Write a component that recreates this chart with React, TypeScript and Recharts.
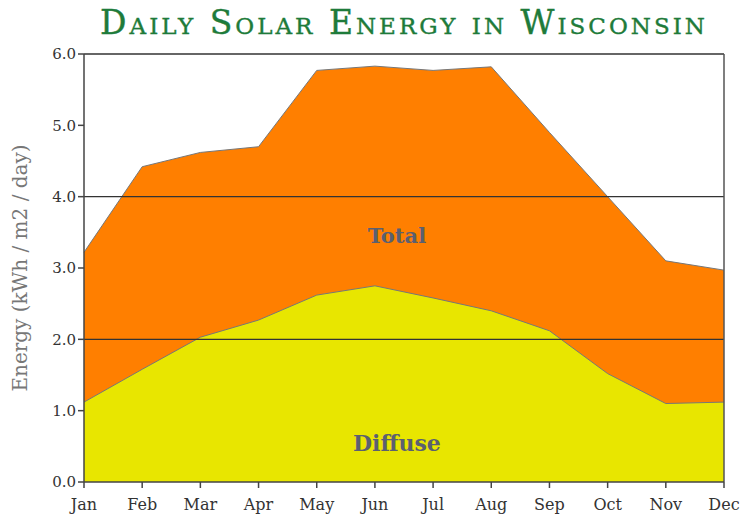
import { AreaChart, Area, XAxis, YAxis, ReferenceLine, ReferenceDot } from "recharts";

// Monthly values (kWh/m2/day)
const months = ["Jan", "Feb", "Mar", "Apr", "May", "Jun", "Jul", "Aug", "Sep", "Oct", "Nov", "Dec"];
const total = [3.22, 4.42, 4.62, 4.7, 5.77, 5.83, 5.77, 5.82, 4.9, 4.0, 3.1, 2.97];
const diffuse = [1.12, 1.58, 2.03, 2.27, 2.62, 2.75, 2.58, 2.4, 2.12, 1.52, 1.1, 1.12];
const yTicks = [0, 1, 2, 3, 4, 5, 6];
const gridValues = [2, 4];

const data = months.map((m, i) => ({ month: m, total: total[i], diffuse: diffuse[i] }));

const serif = "'DejaVu Serif', serif";
const tickStyle = { fontSize: 15, fill: "#333", fontFamily: serif };

export default function App() {
  return (
    <div style={{ position: "relative", width: 744, height: 517, background: "#fff" }}>
      <style>{"body { margin: 0; }"}</style>
      <div
        style={{
          position: "absolute",
          top: 0,
          left: 84,
          width: 640,
          textAlign: "center",
          fontFamily: serif,
          fontVariant: "small-caps",
          fontSize: 33,
          lineHeight: "46px",
          letterSpacing: 3,
          color: "#1e7b3a",
          WebkitTextStroke: "0.4px #1e7b3a",
          whiteSpace: "nowrap",
        }}
      >
        Daily Solar Energy in Wisconsin
      </div>
      <AreaChart width={744} height={517} data={data} margin={{ top: 54, right: 20, bottom: 0, left: 0 }}>
        <XAxis
          dataKey="month"
          height={35}
          tick={{ ...tickStyle, fontSize: 16 }}
          tickSize={6}
          tickMargin={11}
          stroke="#444"
          strokeWidth={1.5}
          interval={0}
        />
        <YAxis
          width={84}
          domain={[0, 6]}
          ticks={yTicks}
          tick={tickStyle}
          tickSize={6}
          tickFormatter={(v: number) => v.toFixed(1)}
          stroke="#444"
          strokeWidth={1.5}
          label={{
            value: "Energy (kWh / m2 / day)",
            angle: -90,
            position: "insideLeft",
            offset: 20,
            style: { textAnchor: "middle", fontSize: 20, fill: "#777", fontFamily: serif },
          }}
        />
        <Area
          type="linear"
          dataKey="total"
          stroke="#777"
          strokeWidth={1}
          fill="#ff7f00"
          fillOpacity={1}
          isAnimationActive={false}
        />
        <Area
          type="linear"
          dataKey="diffuse"
          stroke="#777"
          strokeWidth={1}
          fill="#e8e600"
          fillOpacity={1}
          isAnimationActive={false}
        />
        {gridValues.map((v) => (
          <ReferenceLine key={v} y={v} stroke="#333" strokeWidth={1.2} />
        ))}
        <ReferenceLine y={6} stroke="#666" strokeWidth={2} />
        <ReferenceLine x="Dec" stroke="#555" strokeWidth={1.5} />
        <ReferenceDot
          x="Jun"
          y={3.45}
          r={0}
          label={{ value: "Total", dx: 22, fill: "#5b6070", fontSize: 21, fontWeight: "bold", fontFamily: serif, position: "center" }}
        />
        <ReferenceDot
          x="Jun"
          y={0.55}
          r={0}
          label={{ value: "Diffuse", dx: 22, fill: "#5b6070", fontSize: 22, fontWeight: "bold", fontFamily: serif, position: "center" }}
        />
      </AreaChart>
    </div>
  );
}
